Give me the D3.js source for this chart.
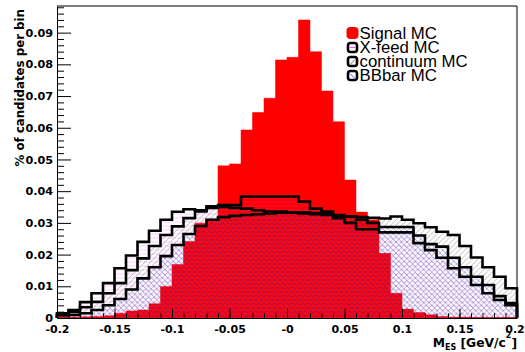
<!DOCTYPE html>
<meta charset="utf-8">
<script src="https://d3js.org/d3.v7.min.js"></script>
<style>
  body { margin: 0; background: white; }
  text { font-family: "DejaVu Sans", sans-serif; }
</style>
<div id="chart"></div>
<script>
// histogram binning: 40 bins between -0.2 and 0.2
const binLo = -0.2, binWidth = 0.01;

// fraction of candidates per bin
const signalMC = [0.0003, 0.0003, 0.0004, 0.0005, 0.0007, 0.0015, 0.0022, 0.0025, 0.0045, 0.0099,
                  0.0169, 0.0241, 0.0299, 0.0311, 0.0480, 0.0486, 0.0593, 0.0648, 0.0693, 0.0814,
                  0.0822, 0.0940, 0.0840, 0.0716, 0.0619, 0.0435, 0.0334, 0.0310, 0.0204, 0.0078,
                  0.0028, 0.0017, 0.0010, 0.0005, 0.0003, 0.0003, 0.0002, 0.0002, 0.0002, 0.0002];
const xfeedMC  = [0.0015, 0.0025, 0.0050, 0.0078, 0.0110, 0.0157, 0.0197, 0.0240, 0.0275, 0.0310,
                  0.0335, 0.0343, 0.0340, 0.0352, 0.0356, 0.0356, 0.0383, 0.0383, 0.0383, 0.0383,
                  0.0383, 0.0367, 0.0345, 0.0336, 0.0315, 0.0300, 0.0280, 0.0280, 0.0270, 0.0270,
                  0.0270, 0.0236, 0.0214, 0.0190, 0.0157, 0.0130, 0.0104, 0.0078, 0.0057, 0.0040];
const contMC   = [0.0012, 0.0020, 0.0034, 0.0051, 0.0078, 0.0110, 0.0151, 0.0188, 0.0227, 0.0262,
                  0.0289, 0.0315, 0.0336, 0.0347, 0.0350, 0.0347, 0.0345, 0.0340, 0.0336, 0.0336,
                  0.0333, 0.0330, 0.0327, 0.0325, 0.0322, 0.0320, 0.0318, 0.0316, 0.0314, 0.0320,
                  0.0310, 0.0299, 0.0286, 0.0272, 0.0262, 0.0227, 0.0191, 0.0160, 0.0130, 0.0094];
const bbbarMC  = [0.0008, 0.0010, 0.0015, 0.0025, 0.0040, 0.0060, 0.0090, 0.0125, 0.0160, 0.0195,
                  0.0230, 0.0265, 0.0290, 0.0310, 0.0318, 0.0322, 0.0325, 0.0327, 0.0330, 0.0332,
                  0.0333, 0.0333, 0.0331, 0.0330, 0.0325, 0.0320, 0.0310, 0.0300, 0.0287, 0.0287,
                  0.0287, 0.0260, 0.0233, 0.0225, 0.0190, 0.0160, 0.0130, 0.0104, 0.0069, 0.0047];

const legendLabels = ["Signal MC", "X-feed MC", "continuum MC", "BBbar MC"];
const xTickValues = [-0.2, -0.15, -0.1, -0.05, 0, 0.05, 0.1, 0.15, 0.2];
const xTickLabels = ["-0.2", "-0.15", "-0.1", "-0.05", "-0", "0.05", "0.1", "0.15", "0.2"];
const yTickValues = [0, 0.01, 0.02, 0.03, 0.04, 0.05, 0.06, 0.07, 0.08, 0.09];
const yTickLabels = ["0", "0.01", "0.02", "0.03", "0.04", "0.05", "0.06", "0.07", "0.08", "0.09"];

const W = 525, H = 352;
const fL = 57, fR = 517, fT = 6, fB = 318;

const svg = d3.select("#chart").append("svg")
    .attr("width", W).attr("height", H)
    .style("background", "white");

const x = d3.scaleLinear().domain([-0.2, 0.2]).range([fL, fR]);
const y = d3.scaleLinear().domain([0, 0.0984]).range([fB, fT]);

// hatch patterns (ROOT style 3007 / 3004 / 3005)
const defs = svg.append("defs");
function hatch(id, size, d, color, w, op) {
  const p = defs.append("pattern").attr("id", id)
      .attr("patternUnits", "userSpaceOnUse")
      .attr("width", size).attr("height", size);
  p.append("path").attr("d", d).attr("stroke", color).attr("stroke-opacity", op)
      .attr("stroke-width", w).attr("fill", "none");
}
hatch("hx", 4, "M0,2 H4", "#ff30ff", 0.45, 0.55);
hatch("hc", 5.5, "M-1,6.5 L6.5,-1 M-1,1 L1,-1 M4.5,6.5 L6.5,4.5", "#404040", 0.45, 0.8);
hatch("hb", 5.5, "M-1,-1 L6.5,6.5 M4.5,-1 L6.5,1 M-1,4.5 L1,6.5", "#2020e0", 0.5, 0.9);

function steps(vals) {
  const pts = [[x(binLo), y(0)]];
  vals.forEach((v, i) => {
    pts.push([x(binLo + i * binWidth), y(v)]);
    pts.push([x(binLo + (i + 1) * binWidth), y(v)]);
  });
  pts.push([x(binLo + vals.length * binWidth), y(0)]);
  return d3.line()(pts);
}

const plot = svg.append("g");
plot.append("path").attr("d", steps(signalMC) + "Z")
    .attr("fill", "#ff0000").attr("stroke", "#ff0000").attr("stroke-width", 0.5);

[[xfeedMC, "url(#hx)"], [contMC, "url(#hc)"], [bbbarMC, "url(#hb)"]].forEach(([vals, fill]) => {
  plot.append("path").attr("d", steps(vals) + "Z").attr("fill", fill).attr("stroke", "none");
});
[xfeedMC, contMC, bbbarMC].forEach(vals => {
  plot.append("path").attr("d", steps(vals))
      .attr("fill", "none").attr("stroke", "black").attr("stroke-width", 2.6)
      .attr("stroke-linejoin", "miter");
});

// axes, ticks pointing inward
const yMinor = d3.range(0.002, 0.0984, 0.002).filter(v => Math.abs(v * 100 - Math.round(v * 100)) > 1e-6);
const xMinor = d3.range(-0.19, 0.2, 0.01);

svg.append("g").attr("transform", `translate(${fL},0)`)
    .call(d3.axisLeft(y).tickValues(yMinor).tickSize(-7).tickSizeOuter(0).tickFormat(""))
    .call(g => g.select(".domain").remove());
svg.append("g").attr("transform", `translate(${fL},0)`)
    .call(d3.axisLeft(y).tickValues(yTickValues).tickSize(-14).tickSizeOuter(0).tickPadding(4)
      .tickFormat((d, i) => yTickLabels[i]))
    .call(g => g.selectAll("text").attr("font-size", 11.2).attr("font-weight", "bold")
      .attr("font-family", "DejaVu Sans").attr("fill", "black"));

svg.append("g").attr("transform", `translate(0,${fB})`)
    .call(d3.axisBottom(x).tickValues(xMinor).tickSize(-4.7).tickSizeOuter(0).tickFormat(""))
    .call(g => g.select(".domain").remove());
svg.append("g").attr("transform", `translate(0,${fB})`)
    .call(d3.axisBottom(x).tickValues(xTickValues).tickSize(-9.4).tickSizeOuter(0).tickPadding(7)
      .tickFormat((d, i) => xTickLabels[i]))
    .call(g => g.selectAll("text").attr("font-size", 11).attr("font-weight", "bold")
      .attr("font-family", "DejaVu Sans").attr("fill", "black"))
    .call(g => g.selectAll("text").filter(d => d === 0.2).attr("dx", -2.5));

svg.selectAll(".tick line").attr("stroke-width", 1);

// frame top and right
svg.append("path").attr("d", `M${fL},${fT}H${fR}V${fB}`)
    .attr("fill", "none").attr("stroke", "black").attr("stroke-width", 1);

// axis titles
svg.append("text")
    .attr("transform", `translate(24,9) rotate(-90)`)
    .attr("text-anchor", "end")
    .attr("font-size", 11.8).attr("font-weight", "bold")
    .text("% of candidates per bin");

const xt = svg.append("text").attr("x", fR).attr("y", 347)
    .attr("text-anchor", "end").attr("font-size", 12.3).attr("font-weight", "bold");
xt.append("tspan").text("M");
xt.append("tspan").attr("font-size", 8).attr("dy", 3).text("ES");
xt.append("tspan").attr("dy", -3).text(" [GeV/c");
xt.append("tspan").attr("font-size", 8).attr("dy", -9).text("2");
xt.append("tspan").attr("dy", 9).text("]");

// legend
const legY = [33, 47.5, 61.5, 75.5];
const legFill = [null, "#ff44ff", "#707070", "#5050ff"];
const leg = svg.append("g");
legendLabels.forEach((lab, i) => {
  const cy = legY[i];
  if (i === 0) {
    leg.append("rect").attr("x", 346.5).attr("y", cy - 6).attr("width", 12).attr("height", 12)
        .attr("rx", 4).attr("fill", "#ff0000");
  } else {
    leg.append("rect").attr("x", 348).attr("y", cy - 4.5).attr("width", 9).attr("height", 9)
        .attr("rx", 2.5).attr("fill", "white").attr("stroke", "black").attr("stroke-width", 2.6);
    const d = i === 1 ? `M349.5,${cy}H355.5` : i === 2 ? `M350,${cy + 3}L355,${cy - 2}` : `M350,${cy - 2}L355,${cy + 3}`;
    leg.append("path").attr("d", d).attr("stroke", legFill[i]).attr("stroke-width", 1);
  }
  leg.append("text").attr("x", 359.5).attr("y", cy + 5.5)
      .style("font-family", "'Liberation Sans', Arial, sans-serif")
      .attr("font-size", 16.8).text(lab);
});
</script>
